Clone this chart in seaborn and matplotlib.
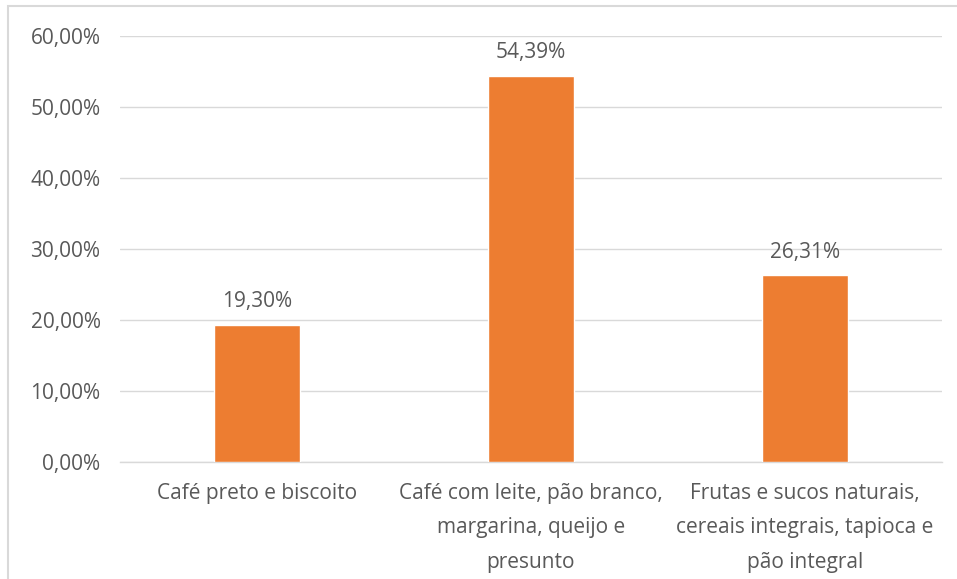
import matplotlib
matplotlib.use('Agg')
import matplotlib.pyplot as plt
import seaborn as sns
import pandas as pd
from matplotlib.patches import Rectangle
from matplotlib.ticker import FuncFormatter

categories = [
    "Café preto e biscoito",
    "Café com leite, pão branco,\nmargarina, queijo e\npresunto",
    "Frutas e sucos naturais,\ncereais integrais, tapioca e\npão integral",
]
values = [19.30, 54.39, 26.31]
y_ticks = [0, 10, 20, 30, 40, 50, 60]

BAR_COLOR = "#ED7D31"
TEXT_COLOR = "#595959"
GRID_COLOR = "#D9D9D9"

sns.set_style("white")
plt.rcParams['font.family'] = ['Open Sans', 'DejaVu Sans']

df = pd.DataFrame({"categoria": categories, "valor": values})

fig = plt.figure(figsize=(9.57, 5.79), dpi=100)
ax = fig.add_axes([120 / 957, 1 - 462 / 579, 822 / 957, 426 / 579])

sns.barplot(data=df, x="categoria", y="valor", color=BAR_COLOR, width=0.314,
            saturation=1, ax=ax, zorder=3)

ax.set_ylim(0, 60)
ax.set_xlim(-0.5, 2.5)
ax.set_yticks(y_ticks)
ax.yaxis.set_major_formatter(FuncFormatter(lambda v, p: f"{v:.2f}%".replace(".", ",")))
ax.grid(axis="y", color=GRID_COLOR, linewidth=1, zorder=0)
ax.set_xlabel("")
ax.set_ylabel("")
for s in ["top", "right", "left"]:
    ax.spines[s].set_visible(False)
ax.spines["bottom"].set_color(GRID_COLOR)
ax.spines["bottom"].set_linewidth(1)
ax.tick_params(axis="both", length=0, labelsize=15, labelcolor=TEXT_COLOR)
ax.tick_params(axis="y", pad=14)
ax.tick_params(axis="x", pad=15)
for lbl in ax.get_xticklabels():
    lbl.set_linespacing(1.85)
    lbl.set_verticalalignment("top")

for i, v in enumerate(values):
    ax.annotate(f"{v:.2f}%".replace(".", ","), xy=(i, v), xytext=(0, 9),
                textcoords="offset points", ha="center", va="bottom",
                fontsize=15, color=TEXT_COLOR)

# chart border
fig.patches.append(Rectangle((8 / 957, -0.1), 1.2, 1 - 6 / 579 + 0.1,
                             transform=fig.transFigure, fill=False,
                             edgecolor="#D9D9D9", linewidth=1.5))

fig.savefig("out.png", dpi=100)
